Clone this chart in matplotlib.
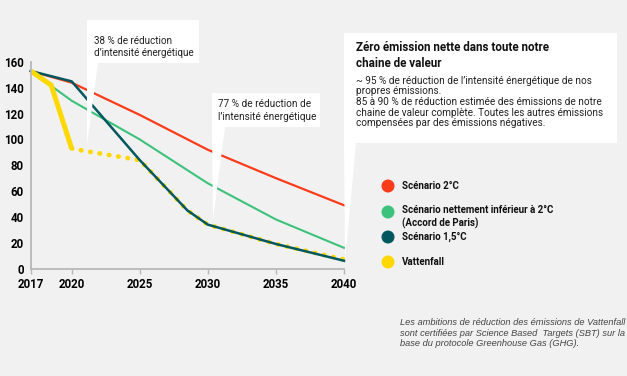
import numpy as np
import matplotlib
matplotlib.use("Agg")
import matplotlib.pyplot as plt
from matplotlib.patches import Rectangle, Polygon, Ellipse

# data (emission intensity, g CO2/kWh)
red_years = [2017, 2020, 2025, 2030, 2035, 2040]
red_vals = [153, 144, 119, 92, 70, 49]

green_years = [2017, 2020, 2025, 2030, 2035, 2040]
green_vals = [153, 130, 100, 66, 38, 16]

teal_years = [2017, 2020, 2025, 2028.5, 2030, 2035, 2040]
teal_vals = [153, 145, 84, 45, 34, 19, 6]

vf_years = [2017, 2018.5, 2020]
vf_vals = [153, 142, 93]
vf_dot_years = [2020, 2021, 2025, 2028.5, 2030, 2035, 2040]
vf_dot_vals = [93, 91, 84, 45, 34, 19, 7]

xticks = [2017, 2020, 2025, 2030, 2035, 2040]
yticks = [0, 20, 40, 60, 80, 100, 120, 140, 160]

legend_labels = ["Scénario 2°C",
                 "Scénario nettement inférieur à 2°C\n(Accord de Paris)",
                 "Scénario 1,5°C",
                 "Vattenfall"]

RED = "#fa3c1a"
GREEN = "#3cc27b"
TEAL = "#00585f"
YELLOW = "#ffd800"
BG = "#f1f1f1"

W, H = 627, 376

plt.rcParams['font.family'] = ['Roboto', 'DejaVu Sans']


def fx(x):
    return x / W


def fy(y):
    return 1 - y / H


fig = plt.figure(figsize=(W / 100, H / 100), dpi=100, facecolor=BG)
ax = fig.add_axes([fx(30.8), fy(268.5), fx(344) - fx(30.8), fy(62) - fy(268.5)])
ax.set_facecolor(BG)

ax.plot(red_years, red_vals, color=RED, lw=1.6, clip_on=False)
ax.plot(green_years, green_vals, color=GREEN, lw=1.5, clip_on=False)
ax.plot(vf_dot_years, vf_dot_vals, color=YELLOW, lw=3.4, ls=(0, (0.1, 1.9)),
        dash_capstyle="round", clip_on=False)
ax.plot(teal_years, teal_vals, color=TEAL, lw=1.8, clip_on=False)
ax.plot(vf_years, vf_vals, color=YELLOW, lw=3.6, solid_joinstyle="miter",
        solid_capstyle="butt", clip_on=False)

ax.set_xlim(2017, 2040)
ax.set_ylim(0, 160)
ax.set_xticks(xticks)
ax.set_yticks(yticks)
ax.tick_params(axis="x", length=3.5, width=1, color="#b8b8b8", pad=3,
               labelsize=8.3)
ax.tick_params(axis="y", length=0, pad=5, labelsize=8.3)
for lab in ax.get_xticklabels() + ax.get_yticklabels():
    lab.set_fontweight("bold")
for s in ["top", "right"]:
    ax.spines[s].set_visible(False)
for s in ["left", "bottom"]:
    ax.spines[s].set_color("#b8b8b8")
    ax.spines[s].set_linewidth(1.3)

# callout boxes with white pointers
def callout(box, tip):
    x0, y0, x1, y1 = box
    fig.patches.append(Rectangle((fx(x0), fy(y1)), fx(x1) - fx(x0), fy(y0) - fy(y1),
                                 transform=fig.transFigure, facecolor="white",
                                 edgecolor="none", zorder=2))
    fig.patches.append(Polygon([(fx(tip[0]), fy(y1)), (fx(tip[1]), fy(y1)),
                                (fx(tip[2]), fy(tip[3]))],
                               transform=fig.transFigure, facecolor="white",
                               edgecolor="none", zorder=2))


callout((87, 20, 199, 63), (87, 98, 87, 145))
callout((212, 93, 320, 127), (212, 225, 213, 220))
callout((344, 33, 617, 143), (344, 356, 345, 262))

fig.text(fx(94), fy(47), "38 % de réduction\nd’intensité énergétique", fontsize=7.1,
         va="center", ha="left", linespacing=1.3, color="#222222", zorder=3)
fig.text(fx(218), fy(110.5), "77 % de réduction de\nl’intensité énergétique", fontsize=7.2,
         va="center", ha="left", linespacing=1.3, color="#222222", zorder=3)
fig.text(fx(356), fy(55.5), "Zéro émission nette dans toute notre\nchaine de valeur",
         fontsize=8.4, fontweight="bold", va="center", ha="left", linespacing=1.25,
         color="#111111", zorder=3)
fig.text(fx(356), fy(102),
         "~ 95 % de réduction de l’intensité énergétique de nos\n"
         "propres émissions.\n"
         "85 à 90 % de réduction estimée des émissions de notre\n"
         "chaine de valeur complète. Toutes les autres émissions\n"
         "compensées par des émissions négatives.",
         fontsize=7.2, va="center", ha="left", linespacing=1.07, color="#222222", zorder=3)

# legend
leg_y = [186, 212, 237, 262]
leg_col = [RED, GREEN, TEAL, YELLOW]
for lab, y, c in zip(legend_labels, leg_y, leg_col):
    fig.patches.append(Ellipse((fx(388), fy(y)), 13 / W, 13 / H, transform=fig.transFigure,
                               facecolor=c, edgecolor="none", zorder=3))
    ty = y + (5 if "\n" in lab else 0)
    fig.text(fx(402), fy(ty), lab, fontsize=7.0, fontweight="bold", va="center",
             ha="left", linespacing=1.3, color="#111111", zorder=3)

# footnote
fig.text(fx(400), fy(333),
         "Les ambitions de réduction des émissions de Vattenfall\n"
         "sont certifiées par Science Based  Targets (SBT) sur la\n"
         "base du protocole Greenhouse Gas (GHG).",
         fontsize=6.7, style="italic", family="Liberation Sans", va="center",
         ha="left", linespacing=1.2, color="#444444", zorder=3)

fig.savefig("out.png", dpi=100, facecolor=BG)
